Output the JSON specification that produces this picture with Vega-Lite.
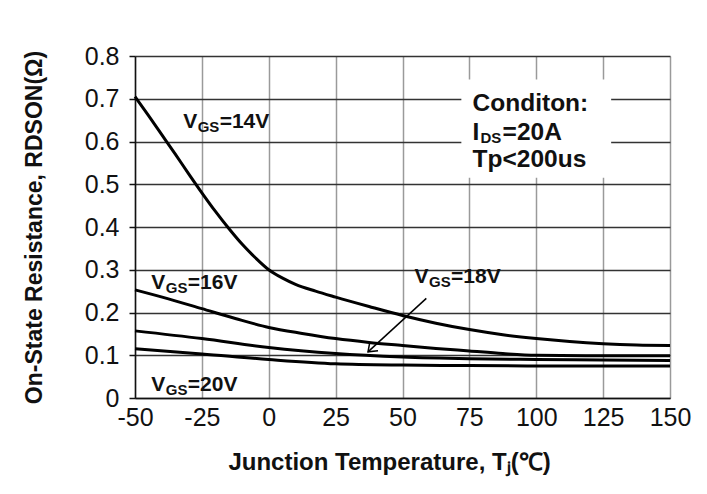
{
  "$schema": "https://vega.github.io/schema/vega-lite/v6.json",
  "autosize": "none",
  "width": 535,
  "height": 342,
  "padding": {"left": 135, "top": 56, "right": 37, "bottom": 96},
  "background": "white",
  "config": {
    "view": {"stroke": null},
    "font": "Liberation Sans",
    "text": {"font": "Liberation Sans", "fontWeight": "bold", "color": "#111"}
  },
  "datasets": {
    "curves": [
      {"vgs": "14V", "t": -50, "r": 0.705},
      {"vgs": "14V", "t": -45, "r": 0.661},
      {"vgs": "14V", "t": -40, "r": 0.616},
      {"vgs": "14V", "t": -35, "r": 0.571},
      {"vgs": "14V", "t": -30, "r": 0.525},
      {"vgs": "14V", "t": -25, "r": 0.48},
      {"vgs": "14V", "t": -20, "r": 0.437},
      {"vgs": "14V", "t": -15, "r": 0.397},
      {"vgs": "14V", "t": -10, "r": 0.36},
      {"vgs": "14V", "t": -5, "r": 0.328},
      {"vgs": "14V", "t": 0, "r": 0.3},
      {"vgs": "14V", "t": 5, "r": 0.281},
      {"vgs": "14V", "t": 10, "r": 0.266},
      {"vgs": "14V", "t": 17.5, "r": 0.25},
      {"vgs": "14V", "t": 25, "r": 0.236},
      {"vgs": "14V", "t": 37.5, "r": 0.214},
      {"vgs": "14V", "t": 50, "r": 0.193},
      {"vgs": "14V", "t": 62.5, "r": 0.175},
      {"vgs": "14V", "t": 75, "r": 0.16},
      {"vgs": "14V", "t": 87.5, "r": 0.148},
      {"vgs": "14V", "t": 100, "r": 0.139},
      {"vgs": "14V", "t": 112.5, "r": 0.132},
      {"vgs": "14V", "t": 125, "r": 0.127},
      {"vgs": "14V", "t": 137.5, "r": 0.124},
      {"vgs": "14V", "t": 150, "r": 0.123},
      {"vgs": "16V", "t": -50, "r": 0.253},
      {"vgs": "16V", "t": -37.5, "r": 0.232},
      {"vgs": "16V", "t": -25, "r": 0.209},
      {"vgs": "16V", "t": -12.5, "r": 0.186},
      {"vgs": "16V", "t": 0, "r": 0.165},
      {"vgs": "16V", "t": 12.5, "r": 0.151},
      {"vgs": "16V", "t": 25, "r": 0.139},
      {"vgs": "16V", "t": 37.5, "r": 0.13},
      {"vgs": "16V", "t": 50, "r": 0.123},
      {"vgs": "16V", "t": 62.5, "r": 0.116},
      {"vgs": "16V", "t": 75, "r": 0.11},
      {"vgs": "16V", "t": 87.5, "r": 0.104},
      {"vgs": "16V", "t": 100, "r": 0.1},
      {"vgs": "16V", "t": 125, "r": 0.099},
      {"vgs": "16V", "t": 150, "r": 0.099},
      {"vgs": "18V", "t": -50, "r": 0.157},
      {"vgs": "18V", "t": -25, "r": 0.139},
      {"vgs": "18V", "t": 0, "r": 0.118},
      {"vgs": "18V", "t": 25, "r": 0.104},
      {"vgs": "18V", "t": 50, "r": 0.096},
      {"vgs": "18V", "t": 75, "r": 0.092},
      {"vgs": "18V", "t": 100, "r": 0.09},
      {"vgs": "18V", "t": 125, "r": 0.089},
      {"vgs": "18V", "t": 150, "r": 0.088},
      {"vgs": "20V", "t": -50, "r": 0.115},
      {"vgs": "20V", "t": -25, "r": 0.103},
      {"vgs": "20V", "t": 0, "r": 0.09},
      {"vgs": "20V", "t": 25, "r": 0.08},
      {"vgs": "20V", "t": 50, "r": 0.077},
      {"vgs": "20V", "t": 75, "r": 0.076},
      {"vgs": "20V", "t": 100, "r": 0.075},
      {"vgs": "20V", "t": 150, "r": 0.075}
    ],
    "labels": [
      {"t": -32, "r": 0.631, "main": "V", "sub": "GS", "rest": "=14V"},
      {"t": -43.9, "r": 0.254, "main": "V", "sub": "GS", "rest": "=16V"},
      {"t": 54.5, "r": 0.268, "main": "V", "sub": "GS", "rest": "=18V"},
      {"t": -43.9, "r": 0.017, "main": "V", "sub": "GS", "rest": "=20V"}
    ],
    "cond": [
      {"t": 76.2, "r": 0.672, "main": "Conditon:", "sub": "", "rest": ""},
      {"t": 76.2, "r": 0.604, "main": "I", "sub": "DS", "rest": "=20A"},
      {"t": 76.2, "r": 0.541, "main": "Tp<200us", "sub": "", "rest": ""}
    ],
    "box": [{"t": 72, "t2": 128, "r": 0.515, "r2": 0.745}],
    "arrow": [{"t": 58.9, "r": 0.233, "t2": 37.1, "r2": 0.108}],
    "head": [{"t": 37.1, "r": 0.108}]
  },
  "encoding": {
    "x": {
      "field": "t", "type": "quantitative",
      "scale": {"domain": [-50, 150], "nice": false, "zero": false},
      "axis": {
        "values": [-50, -25, 0, 25, 50, 75, 100, 125, 150],
        "labelExpr": "toString(datum.value)",
        "grid": true, "gridColor": "#9a9a9a", "gridWidth": 1.5,
        "domain": true, "domainColor": "#111", "domainWidth": 1.5,
        "ticks": false,
        "labelFont": "Liberation Sans", "labelFontSize": 25, "labelColor": "#111",
        "labelPadding": 7, "labelFlush": false,
        "title": "Junction Temperature, Tⱼ(℃)",
        "titleFont": "Liberation Sans", "titleFontSize": 24, "titleFontWeight": "bold",
        "titleColor": "#111", "titlePadding": 20, "titleX": 254
      }
    },
    "y": {
      "field": "r", "type": "quantitative",
      "scale": {"domain": [0, 0.8], "nice": false, "zero": true},
      "axis": {
        "values": [0, 0.1, 0.2, 0.3, 0.4, 0.5, 0.6, 0.7, 0.8],
        "format": ".1~f",
        "grid": true, "gridColor": "#333", "gridWidth": 1.5,
        "domain": true, "domainColor": "#111", "domainWidth": 1.5,
        "ticks": true, "tickSize": 6, "tickColor": "#111", "tickWidth": 1.5,
        "labelFont": "Liberation Sans", "labelFontSize": 25, "labelColor": "#111",
        "labelPadding": 10, "labelFlush": false,
        "title": "On-State Resistance, RDSON(Ω)",
        "titleFont": "Liberation Sans", "titleFontSize": 23, "titleFontWeight": "bold",
        "titleColor": "#111", "titlePadding": 38
      }
    }
  },
  "layer": [
    {
      "data": {"name": "box"},
      "mark": {"type": "rect", "fill": "white", "stroke": null},
      "encoding": {"x2": {"field": "t2"}, "y2": {"field": "r2"}}
    },
    {
      "data": {"name": "curves"},
      "mark": {"type": "line", "color": "black", "strokeWidth": 3, "interpolate": "monotone"},
      "encoding": {"detail": {"field": "vgs", "type": "nominal"}}
    },
    {
      "data": {"name": "arrow"},
      "mark": {"type": "rule", "color": "black", "strokeWidth": 1.5},
      "encoding": {"x2": {"field": "t2"}, "y2": {"field": "r2"}}
    },
    {
      "data": {"name": "head"},
      "mark": {"type": "point", "shape": "M -1 -0.75 L 0 0 L -1 0.75", "filled": false, "stroke": "black", "strokeWidth": 1.5, "size": 260, "angle": 137.5, "opacity": 1},
      "encoding": {}
    },
    {
      "data": {"name": "labels"},
      "mark": {"type": "text", "align": "left", "baseline": "alphabetic", "fontSize": 21, "fontWeight": "bold"},
      "encoding": {"text": {"field": "main"}}
    },
    {
      "data": {"name": "labels"},
      "mark": {"type": "text", "align": "left", "baseline": "alphabetic", "fontSize": 15, "fontWeight": "bold", "dx": 14.5, "dy": 4},
      "encoding": {"text": {"field": "sub"}}
    },
    {
      "data": {"name": "labels"},
      "mark": {"type": "text", "align": "left", "baseline": "alphabetic", "fontSize": 21, "fontWeight": "bold", "dx": 36.5},
      "encoding": {"text": {"field": "rest"}}
    },
    {
      "data": {"name": "cond"},
      "mark": {"type": "text", "align": "left", "baseline": "alphabetic", "fontSize": 24.5, "fontWeight": "bold"},
      "encoding": {"text": {"field": "main"}}
    },
    {
      "data": {"name": "cond"},
      "mark": {"type": "text", "align": "left", "baseline": "alphabetic", "fontSize": 15, "fontWeight": "bold", "dx": 7.8, "dy": 3},
      "encoding": {"text": {"field": "sub"}}
    },
    {
      "data": {"name": "cond"},
      "mark": {"type": "text", "align": "left", "baseline": "alphabetic", "fontSize": 24.5, "fontWeight": "bold", "dx": 30}
    ,
      "encoding": {"text": {"field": "rest"}}
    }
  ]
}
